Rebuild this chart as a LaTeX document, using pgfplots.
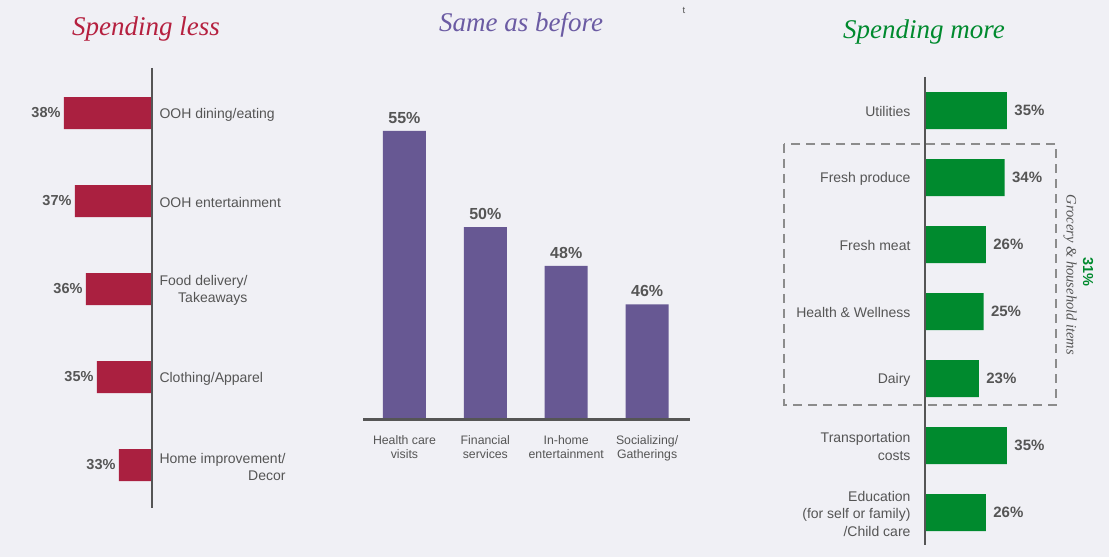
\documentclass[border=0pt]{standalone}
\usepackage{pgfplots}
\pgfplotsset{compat=1.18}
\usepackage{fontspec}
\setmainfont{Liberation Sans}
\newfontfamily\titlefont{Liberation Serif}

\definecolor{bgcol}{RGB}{240,240,245}
\definecolor{txtgray}{RGB}{85,85,85}
\definecolor{axcol}{RGB}{85,85,85}
\definecolor{lessbar}{RGB}{170,32,64}
\definecolor{lesstitle}{RGB}{181,32,63}
\definecolor{samebar}{RGB}{103,88,147}
\definecolor{sametitle}{RGB}{107,91,163}
\definecolor{morebar}{RGB}{0,138,46}
\definecolor{boxgray}{RGB}{140,140,140}

\pgfplotsset{
  panel/.style={
    scale only axis,
    anchor=south west,
    axis line style={draw=none},
    major tick length=0pt,
    point meta=explicit symbolic,
    nodes near coords={\pgfplotspointmeta\%},
    every node near coord/.append style={text=txtgray, font=\bfseries\fontsize{15}{18}\selectfont},
  },
}

\begin{document}
\begin{tikzpicture}[x=1pt,y=1pt]
\fill[bgcol] (0,0) rectangle (1109,557);

% titles
\node[anchor=base, font=\titlefont\itshape\fontsize{27}{30}\selectfont, text=lesstitle] at (146,521) {Spending less};
\node[anchor=base, font=\titlefont\itshape\fontsize{27}{30}\selectfont, text=sametitle] at (521,525) {Same as before};
\node[anchor=base, font=\titlefont\itshape\fontsize{27}{30}\selectfont, text=morebar] at (924,518) {Spending more};
\node[font=\fontsize{9.5}{10}\selectfont, text=txtgray] at (684,547) {t};

% spending less
\begin{axis}[panel,
  at={(9pt,48pt)}, width=143pt, height=440pt,
  xbar, bar width=32pt,
  x dir=reverse, y dir=reverse,
  xmin=30, xmax=43, ymin=0.5, ymax=5.5,
  xtick=\empty,
  ytick={1,2,3,4,5},
  yticklabels={OOH dining/eating, OOH entertainment, {Food delivery/\\Takeaways}, Clothing/Apparel, {Home improvement/\\Decor}},
  yticklabel pos=right,
  yticklabel style={align=right, anchor=west, xshift=4pt, yshift=-1.5pt, text=txtgray, font=\fontsize{14}{17}\selectfont},
  every node near coord/.append style={anchor=east, font=\bfseries\fontsize{14.5}{17}\selectfont},
]
\addplot[fill=lessbar, draw=none] coordinates {(38,1) [38] (37,2) [37] (36,3) [36] (35,4) [35] (33,5) [33]};
\end{axis}
\draw[axcol, line width=2.6pt] (152,489) -- (152,49);

% same as before
\begin{axis}[panel,
  at={(364pt,137pt)}, width=326pt, height=347pt,
  ybar, bar width=43pt,
  xmin=0.5, xmax=4.53, ymin=40, ymax=58,
  ytick=\empty,
  xtick={1,2,3,4},
  xticklabels={{Health care\\visits}, {Financial\\services}, {In-home\\entertainment}, {Socializing/\\Gatherings}},
  xticklabel style={align=center, yshift=-12pt, text=txtgray, font=\fontsize{12.3}{14}\selectfont},
  every node near coord/.append style={yshift=4pt, font=\bfseries\fontsize{16}{18}\selectfont},
]
\addplot[fill=samebar, draw=none] coordinates {(1,55) [55] (2,50) [50] (3,48) [48] (4,46) [46]};
\end{axis}
\draw[axcol, line width=3pt] (363,137) -- (690,137);

% spending more
\begin{axis}[panel,
  at={(925pt,11pt)}, width=117pt, height=469pt,
  xbar, bar width=37pt,
  y dir=reverse,
  xmin=0, xmax=50, ymin=0.5, ymax=7.5,
  xtick=\empty,
  ytick={1,2,3,4,5,6,7},
  yticklabels={Utilities, Fresh produce, Fresh meat, Health \& Wellness, Dairy, {Transportation\\costs}, {Education\\(for self or family)\\/Child care}},
  yticklabel style={align=right, anchor=east, xshift=-11pt, yshift=-1pt, text=txtgray, font=\fontsize{14}{17.5}\selectfont},
  every node near coord/.append style={anchor=west, xshift=4pt},
]
\addplot[fill=morebar, draw=none] coordinates {(35,1) [35] (34,2) [34] (26,3) [26] (25,4) [25] (23,5) [23] (35,6) [35] (26,7) [26]};
\end{axis}
\draw[axcol, line width=2.6pt] (925,480) -- (925,12);

% grocery box
\draw[boxgray, line width=1.4pt, dash pattern=on 9pt off 6pt] (784,413) rectangle (1056,152);
\node[rotate=-90, font=\titlefont\itshape\fontsize{14.5}{17}\selectfont, text=txtgray] at (1070,282) {Grocery \& household items};
\node[rotate=-90, font=\bfseries\fontsize{14.5}{17}\selectfont, text=morebar] at (1088,285) {31\%};
\end{tikzpicture}
\end{document}
